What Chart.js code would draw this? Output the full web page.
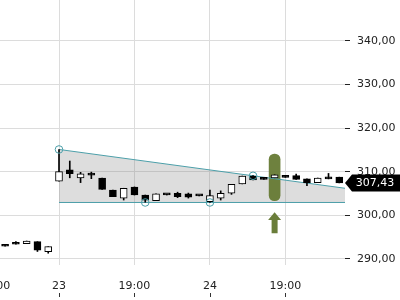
<!DOCTYPE html>
<html>
<head>
<meta charset="utf-8">
<style>
  body { margin: 0; background: #fff; }
  #wrap { width: 400px; height: 300px; }
</style>
</head>
<body>
<div id="wrap">
  <canvas id="myChart" width="400" height="300"></canvas>
</div>

<script src="https://cdn.jsdelivr.net/npm/chart.js@4.4.0/dist/chart.umd.min.js"></script>

<script>
// candle slots (one per hour bar, 0 = first bar of the 23rd)
const slots = [-5, -4, -3, -2, -1, 0, 1, 2, 3, 4, 5, 6, 7, 8, 9, 10, 11, 12, 13, 14, 15, 16, 17, 18, 19, 20, 21, 22, 23, 24, 25, 26];
const open  = [293.3, 293.6, 293.5, 293.95, 291.65, 307.8, 310.45, 308.6, 309.25, 308.55, 305.8, 303.9, 306.5, 304.65, 303.35, 304.75, 305.05, 304.9, 304.6, 303.1, 303.9, 305.05, 307.2, 309.0, 308.55, 308.6, 309.1, 309.1, 308.35, 307.5, 308.6, 308.75];
const high  = [293.3, 294.0, 294.1, 293.95, 292.8, 315.1, 312.45, 309.85, 309.9, 308.55, 305.8, 306.2, 306.5, 304.65, 304.9, 304.8, 305.3, 305.1, 304.6, 305.8, 305.6, 307.1, 309.0, 309.1, 308.55, 309.3, 309.1, 309.45, 308.35, 308.55, 309.6, 308.75];
const low   = [292.9, 293.35, 293.5, 291.7, 291.3, 307.8, 308.6, 307.5, 308.4, 305.95, 304.3, 303.5, 304.65, 303.0, 303.35, 304.65, 304.05, 303.95, 304.45, 302.95, 303.5, 304.8, 307.2, 308.1, 308.25, 308.6, 308.7, 308.25, 306.8, 307.5, 308.35, 307.43];
const close = [292.9, 293.35, 294.1, 292.0, 292.8, 310.0, 309.55, 309.5, 309.2, 305.95, 304.3, 306.2, 304.65, 303.45, 304.9, 304.7, 304.3, 304.15, 304.45, 304.5, 305.05, 307.1, 309.0, 308.1, 308.25, 309.3, 308.7, 308.25, 307.5, 308.55, 308.35, 307.43];

// x axis labels
const tickSlots  = [-6, 0, 7, 14, 21];
const tickLabels = ['19:00', '23', '19:00', '24', '19:00'];

// y axis
const yTicks = [290, 300, 310, 320, 330, 340];

// triangle pattern
const triangleSlots  = [0, 26.53];
const triangleTop    = [315.1, 306.2];
const triangleBottom = [302.94, 302.94];
const touchSlots  = [0, 8, 14, 18];
const touchValues = [315.1, 302.94, 302.94, 309.06];

// breakout signal
const signalSlot  = 20;
const signalRange = [303.35, 314.06];
const arrowValues = [300.7, 298.92, 295.9]; // tip, head base, tail

const lastPrice = close[close.length - 1];

const teal = '#4c9fa9';
const olive = '#6a7d3a';
const FONT = 'DejaVu Sans';

function fmt(v) {
  return v.toFixed(2).replace('.', ',');
}

// arrow under the signal + price tag on the right axis
const overlayPlugin = {
  id: 'overlay',
  afterDraw: function(chart) {
    const ctx = chart.ctx;
    const xs = chart.scales.x;
    const ys = chart.scales.y;

    // up arrow
    const ax = xs.getPixelForValue(signalSlot);
    const tip = ys.getPixelForValue(arrowValues[0]);
    const base = ys.getPixelForValue(arrowValues[1]);
    const tail = ys.getPixelForValue(arrowValues[2]);
    ctx.save();
    ctx.fillStyle = olive;
    ctx.beginPath();
    ctx.moveTo(ax, tip);
    ctx.lineTo(ax + 6.5, base);
    ctx.lineTo(ax + 3, base);
    ctx.lineTo(ax + 3, tail);
    ctx.lineTo(ax - 3, tail);
    ctx.lineTo(ax - 3, base);
    ctx.lineTo(ax - 6.5, base);
    ctx.closePath();
    ctx.fill();

    // little tick marks under the time labels
    ctx.strokeStyle = '#333';
    ctx.lineWidth = 1;
    xs.ticks.forEach(function(t) {
      const px = Math.round(xs.getPixelForValue(t.value)) + 0.5;
      ctx.beginPath();
      ctx.moveTo(px, 293);
      ctx.lineTo(px, 297);
      ctx.stroke();
    });

    // last price tag
    const py = ys.getPixelForValue(lastPrice);
    const left = ys.left;
    ctx.fillStyle = '#000';
    ctx.beginPath();
    ctx.moveTo(left, py);
    ctx.lineTo(left + 7, py - 8.5);
    ctx.lineTo(chart.width, py - 8.5);
    ctx.lineTo(chart.width, py + 8.5);
    ctx.lineTo(left + 7, py + 8.5);
    ctx.closePath();
    ctx.fill();
    ctx.fillStyle = '#fff';
    ctx.font = '11px "' + FONT + '"';
    ctx.textAlign = 'center';
    ctx.textBaseline = 'middle';
    ctx.fillText(fmt(lastPrice), left + 30, py + 0.5);
    ctx.restore();
  }
};

const wickData = slots.map(function(s, i) { return { x: s, y: [low[i], high[i]] }; });
const bodyData = slots.map(function(s, i) { return { x: s, y: [open[i], close[i]] }; });
const bodyColors = slots.map(function(s, i) { return close[i] > open[i] ? '#fff' : '#000'; });

const ctx = document.getElementById('myChart');

let chart = new Chart(ctx, {
  type: 'bar',
  data: {
    datasets: [{
      label: 'signal',
      data: [{ x: signalSlot, y: signalRange }],
      backgroundColor: 'rgba(102,122,52,0.95)',
      barThickness: 11,
      borderRadius: 6,
      borderSkipped: false,
      grouped: false,
      order: 10
    }, {
      type: 'line',
      label: 'top',
      data: triangleSlots.map(function(s, i) { return { x: s, y: triangleTop[i] }; }),
      borderColor: teal,
      borderWidth: 1,
      pointRadius: 0,
      fill: '+1',
      backgroundColor: 'rgba(128,128,128,0.27)',
      order: 6
    }, {
      type: 'line',
      label: 'bottom',
      data: triangleSlots.map(function(s, i) { return { x: s, y: triangleBottom[i] }; }),
      borderColor: teal,
      borderWidth: 1,
      pointRadius: 0,
      fill: false,
      order: 5
    }, {
      label: 'wick',
      data: wickData,
      backgroundColor: '#000',
      barThickness: 1,
      grouped: false,
      order: 3
    }, {
      label: 'body',
      data: bodyData,
      backgroundColor: bodyColors,
      borderColor: '#000',
      borderWidth: 1,
      borderSkipped: false,
      barThickness: 7,
      minBarLength: 2,
      grouped: false,
      order: 2
    }, {
      type: 'line',
      label: 'touch',
      data: touchSlots.map(function(s, i) { return { x: s, y: touchValues[i] }; }),
      showLine: false,
      pointRadius: 3.8,
      pointBorderWidth: 1,
      pointBorderColor: teal,
      pointBackgroundColor: 'rgba(0,0,0,0)',
      order: 1
    }]
  },
  options: {
    responsive: false,
    animation: false,
    layout: { padding: 0, autoPadding: false },
    plugins: {
      legend: { display: false },
      tooltip: { enabled: false },
      filler: { drawTime: 'beforeDatasetsDraw' }
    },
    scales: {
      x: {
        type: 'linear',
        offset: false,
        min: -5.473,
        max: 26.53,
        grid: { color: '#dcdcdc', drawTicks: false, offset: false },
        border: { display: false },
        afterBuildTicks: function(scale) {
          scale.ticks = tickSlots.map(function(v) { return { value: v }; });
        },
        afterFit: function(scale) {
          scale.height = 35;
          scale.paddingLeft = 0;
          scale.paddingRight = 0;
        },
        ticks: {
          autoSkip: false,
          maxRotation: 0,
          minRotation: 0,
          padding: 15,
          color: '#222',
          font: { family: FONT, size: 11 },
          callback: function(value, index) { return tickLabels[index]; }
        }
      },
      y: {
        position: 'right',
        min: 288.6,
        max: 349.38,
        grid: { color: '#dcdcdc', tickColor: '#222', tickLength: 5 },
        border: { display: false },
        afterBuildTicks: function(scale) {
          scale.ticks = yTicks.map(function(v) { return { value: v }; });
        },
        afterFit: function(scale) {
          scale.width = 55;
          scale.paddingTop = 0;
          scale.paddingBottom = 0;
        },
        ticks: {
          padding: 7,
          color: '#222',
          font: { family: FONT, size: 11 },
          callback: function(value) { return fmt(value); }
        }
      }
    }
  },
  plugins: [overlayPlugin]
});
</script>
</body>
</html>
